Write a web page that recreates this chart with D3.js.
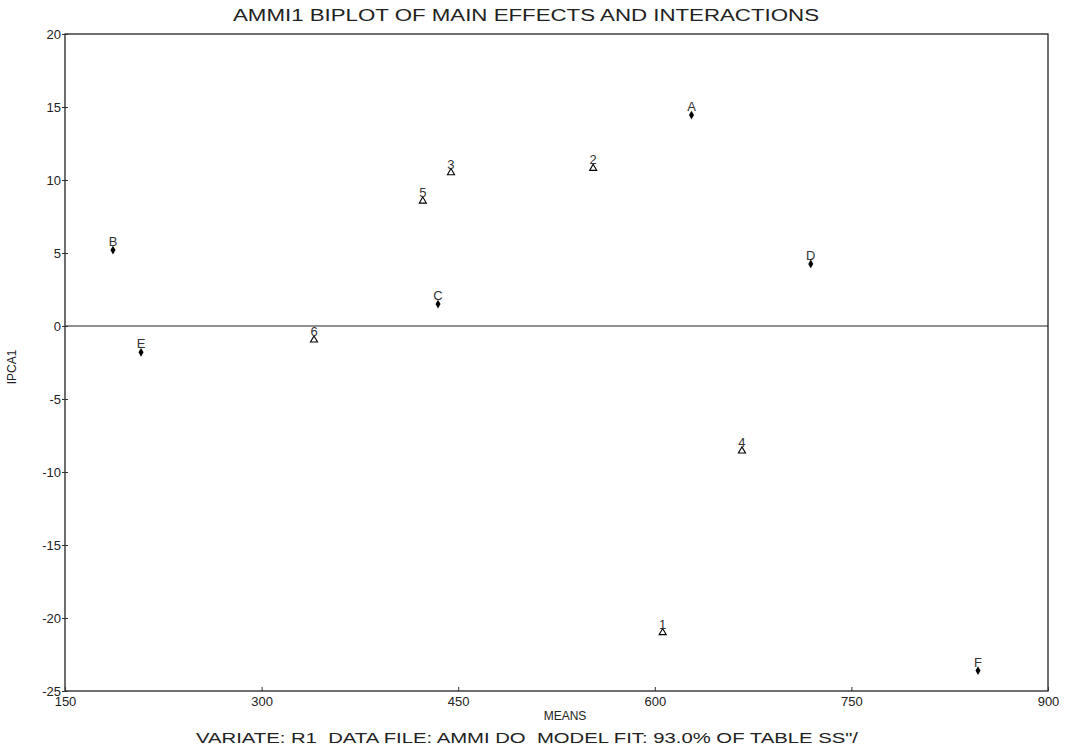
<!DOCTYPE html>
<html>
<head>
<meta charset="utf-8">
<script src="https://cdn.jsdelivr.net/npm/d3@7"></script>
<style>
  html, body { margin: 0; padding: 0; background: #fff; }
  svg { display: block; font-family: "Liberation Sans", Arial, sans-serif; }
</style>
</head>
<body>
<svg id="chart" width="1075" height="746"></svg>
<script>
// ---- data ----
const genotypeLabels = ["A", "B", "C", "D", "E", "F"];
const genotypeMeans  = [628, 186.6, 434.6, 719, 208, 846.6];
const genotypeIPCA1  = [14.45, 5.2, 1.5, 4.25, -1.8, -23.6];

const envLabels = ["1", "2", "3", "4", "5", "6"];
const envMeans  = [606, 553, 444.5, 666.5, 423, 340];
const envIPCA1  = [-21.0, 10.8, 10.5, -8.56, 8.56, -0.96];

const xTicks = [150, 300, 450, 600, 750, 900];
const yTicks = [20, 15, 10, 5, 0, -5, -10, -15, -20, -25];

const titleText = "AMMI1 BIPLOT OF MAIN EFFECTS AND INTERACTIONS";
const xTitle = "MEANS";
const yTitle = "IPCA1";
const footText = "VARIATE: R1  DATA FILE: AMMI DO  MODEL FIT: 93.0% OF TABLE SS\"/";

(function () {
// ---- layout ----
const svg = d3.select("#chart");
const pLeft = 65, pRight = 1048, pTop = 34, pBottom = 691;
const plain = d => String(d);   // hyphen-minus like the original

const x = d3.scaleLinear().domain([150, 900]).range([pLeft, pRight]);
const y = d3.scaleLinear().domain([-25, 20]).range([pBottom, pTop]);

// frame
svg.append("rect")
  .attr("x", pLeft).attr("y", pTop)
  .attr("width", pRight - pLeft).attr("height", pBottom - pTop)
  .attr("fill", "none").attr("stroke", "#222").attr("stroke-width", 1.3);

// zero line
svg.append("line")
  .attr("x1", pLeft).attr("x2", pRight)
  .attr("y1", y(0)).attr("y2", y(0))
  .attr("stroke", "#222").attr("stroke-width", 1.2);

// x axis
const xAxis = d3.axisBottom(x).tickValues(xTicks).tickSizeInner(-4).tickSizeOuter(0).tickPadding(6)
  .tickFormat(plain);
const gx = svg.append("g").attr("transform", `translate(0,${pBottom})`).call(xAxis);
gx.select(".domain").remove();
gx.selectAll(".tick line").attr("stroke", "#333");
gx.selectAll(".tick text").attr("font-size", 13).attr("fill", "#222")
  .attr("font-family", "Liberation Sans, Arial, sans-serif");

// y axis
const yAxis = d3.axisLeft(y).tickValues(yTicks).tickSizeInner(3).tickSizeOuter(0).tickPadding(1)
  .tickFormat(plain);
const gy = svg.append("g").attr("transform", `translate(${pLeft},0)`).call(yAxis);
gy.select(".domain").remove();
gy.selectAll(".tick line").attr("stroke", "#333").attr("x2", 3).attr("x1", -3);
gy.selectAll(".tick text").attr("font-size", 13).attr("fill", "#222")
  .attr("font-family", "Liberation Sans, Arial, sans-serif");

// titles
svg.append("text").attr("x", 526).attr("y", 21).attr("text-anchor", "middle")
  .attr("font-size", 16).attr("fill", "#222")
  .attr("textLength", 586).attr("lengthAdjust", "spacingAndGlyphs")
  .text(titleText);

svg.append("text").attr("x", 565).attr("y", 720).attr("text-anchor", "middle")
  .attr("font-size", 12).attr("fill", "#222").text(xTitle);

svg.append("text").attr("transform", "translate(16,367) rotate(-90)")
  .attr("text-anchor", "middle").attr("font-size", 12).attr("fill", "#222").text(yTitle);

svg.append("text").attr("x", 527).attr("y", 743).attr("text-anchor", "middle")
  .attr("font-size", 14).attr("fill", "#222")
  .style("white-space", "pre").attr("xml:space", "preserve")
  .attr("textLength", 662).attr("lengthAdjust", "spacingAndGlyphs")
  .text(footText);

// points
const gen = genotypeLabels.map((l, i) => ({ label: l, m: genotypeMeans[i], v: genotypeIPCA1[i] }));
const env = envLabels.map((l, i) => ({ label: l, m: envMeans[i], v: envIPCA1[i] }));

const diamond = d3.symbol().type(d3.symbolDiamond).size(22);
svg.append("g").selectAll("path").data(gen).join("path")
  .attr("d", diamond)
  .attr("transform", d => `translate(${x(d.m)},${y(d.v)})`)
  .attr("fill", "#000");

const tri = d3.symbol().type(d3.symbolTriangle).size(22);
svg.append("g").selectAll("path").data(env).join("path")
  .attr("d", tri)
  .attr("transform", d => `translate(${x(d.m)},${y(d.v)})`)
  .attr("fill", "none").attr("stroke", "#000").attr("stroke-width", 1.1);

// labels
svg.append("g").selectAll("text").data(gen.concat(env)).join("text")
  .attr("x", d => x(d.m))
  .attr("y", d => y(d.v) - 4)
  .attr("text-anchor", "middle")
  .attr("font-size", 13).attr("fill", "#333")
  .text(d => d.label);
})();
</script>
</body>
</html>
